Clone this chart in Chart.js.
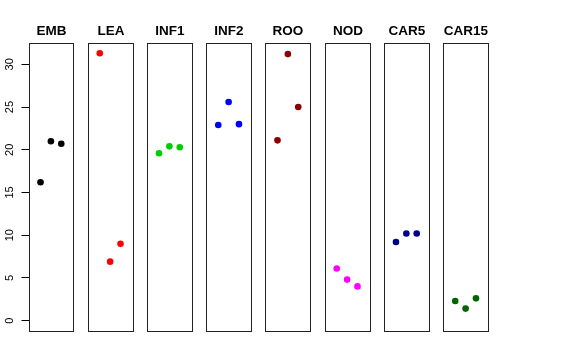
<!DOCTYPE html>
<html>
<head>
<meta charset="utf-8">
<script src="https://cdn.jsdelivr.net/npm/chart.js@4.4.0/dist/chart.umd.min.js"></script>
<style>
html,body{margin:0;padding:0;background:#fff;}
#c{display:block;}
</style>
</head>
<body>
<canvas id="c" width="576" height="360"></canvas>
<script>
// ---- data ----
const categories = ['EMB', 'LEA', 'INF1', 'INF2', 'ROO', 'NOD', 'CAR5', 'CAR15'];
const emb   = [16.2, 21.0, 20.7];
const lea   = [31.3, 6.9, 9.0];
const inf1  = [19.6, 20.4, 20.3];
const inf2  = [22.9, 25.6, 23.0];
const roo   = [21.1, 31.2, 25.0];
const nod   = [6.1, 4.8, 4.0];
const car5  = [9.2, 10.2, 10.2];
const car15 = [2.3, 1.4, 2.6];
const yTicks = [0, 5, 10, 15, 20, 25, 30];
const colors = ['#000000', '#FF0000', '#00CD00', '#0000FF', '#8B0000', '#FF00FF', '#00008B', '#006400'];

const series = [emb, lea, inf1, inf2, roo, nod, car5, car15];
const STEP = 5.713;      // panel step in x units
const PXMIN = -0.16, PXMAX = 4.16; // panel x range (points at 1,2,3)

const datasets = series.map((vals, i) => ({
  label: categories[i],
  data: vals.map((v, j) => ({ x: i * STEP + (j + 1), y: v })),
  backgroundColor: colors[i],
  borderColor: colors[i],
  borderWidth: 0,
  pointRadius: 3.3,
  pointHoverRadius: 3.3,
  showLine: false
}));

const panels = {
  id: 'panels',
  beforeDatasetsDraw(chart) {
    const ctx = chart.ctx, xs = chart.scales.x, a = chart.chartArea;
    ctx.save();
    categories.forEach((name, i) => {
      const l = Math.round(xs.getPixelForValue(i * STEP + PXMIN)) + 0.5;
      const r = Math.round(xs.getPixelForValue(i * STEP + PXMAX)) + 0.5;
      const t = Math.round(a.top) + 0.5, b = Math.round(a.bottom) + 0.5;
      ctx.strokeStyle = '#222';
      ctx.lineWidth = 1;
      ctx.strokeRect(l, t, r - l, b - t);
      ctx.fillStyle = '#000';
      ctx.font = 'bold 13.5px "Liberation Sans", Arial, sans-serif';
      ctx.textAlign = 'center';
      ctx.textBaseline = 'alphabetic';
      ctx.fillText(name, (l + r) / 2, 34.5);
    });
    ctx.restore();
  }
};

new Chart(document.getElementById('c'), {
  type: 'scatter',
  data: { datasets },
  options: {
    responsive: false,
    devicePixelRatio: 1,
    animation: false,
    events: [],
    layout: { padding: { top: 43, bottom: 29, left: 0, right: 88 } },
    plugins: { legend: { display: false }, tooltip: { enabled: false }, title: { display: false } },
    scales: {
      x: {
        type: 'linear', display: false,
        min: PXMIN, max: 7 * STEP + PXMAX
      },
      y: {
        type: 'linear',
        min: -1.22, max: 32.5,
        afterBuildTicks: s => { s.ticks = yTicks.map(v => ({ value: v })); },
        afterFit: s => { s.width = 28.5; },
        border: { display: false },
        grid: { drawOnChartArea: false, drawTicks: true, tickLength: 7, tickColor: '#000', tickWidth: 1 },
        ticks: {
          minRotation: 90, maxRotation: 90,
          crossAlign: 'center',
          padding: 5,
          color: '#000',
          font: { family: '"Liberation Sans", Arial, sans-serif', size: 11 },
          callback: v => String(v)
        }
      }
    }
  },
  plugins: [panels]
});
</script>
</body>
</html>
